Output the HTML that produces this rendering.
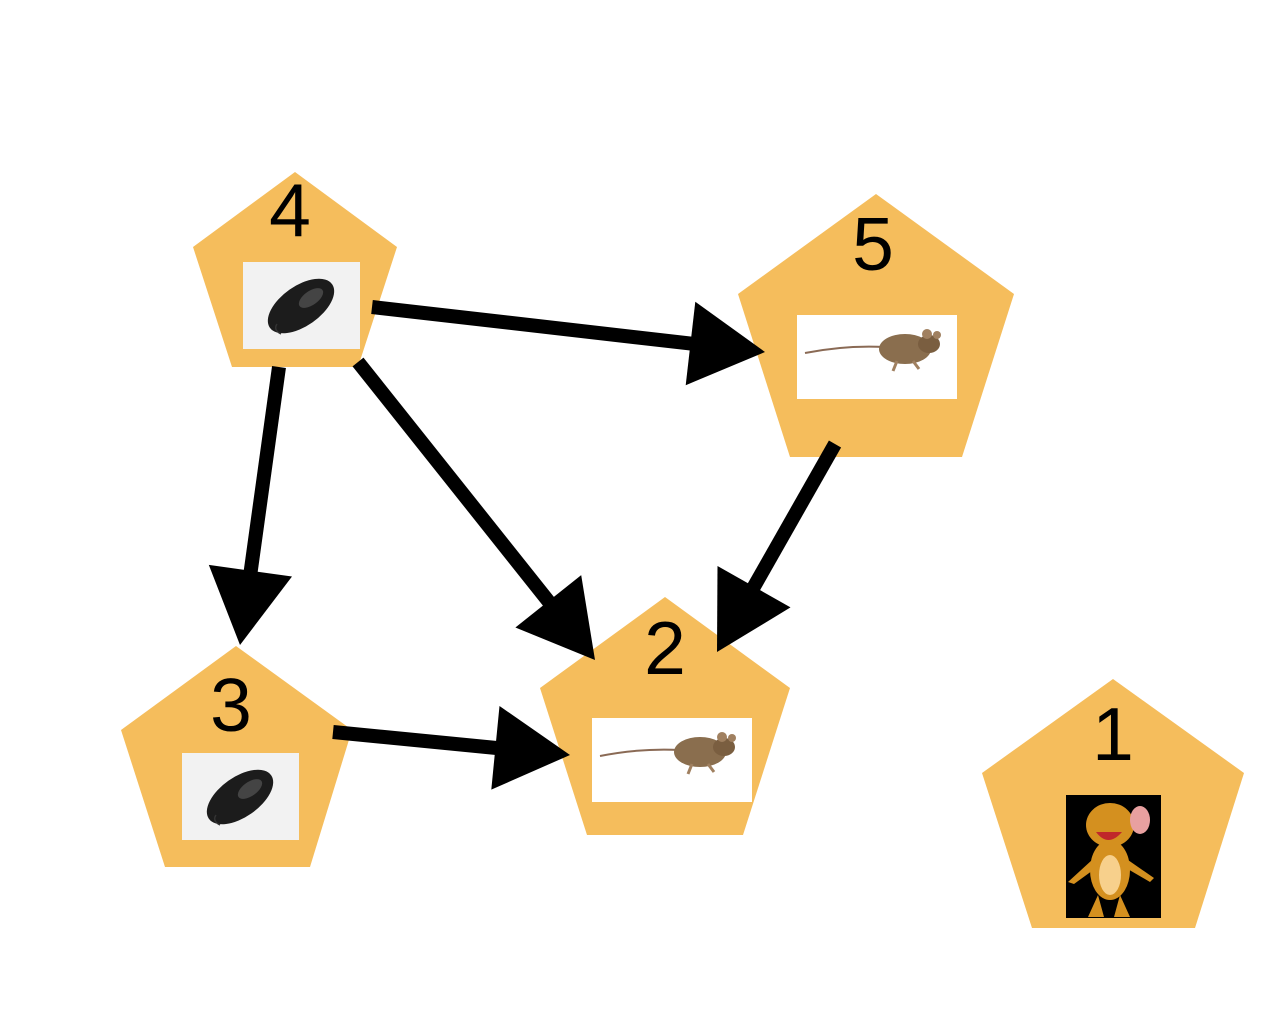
<!DOCTYPE html>
<html><head><meta charset="utf-8"><style>html,body{margin:0;padding:0;background:#fff;}svg{display:block}</style></head>
<body>
<svg width="1280" height="1024" viewBox="0 0 1280 1024" xmlns="http://www.w3.org/2000/svg">
<defs>
<g id="mouse">
<rect width="117" height="87" fill="#f2f2f2"/>
<ellipse cx="58" cy="44" rx="38" ry="20" transform="rotate(-35 58 44)" fill="#1c1c1c"/>
<ellipse cx="68" cy="36" rx="14" ry="7" transform="rotate(-35 68 36)" fill="#444"/>
<path d="M34 62 q-4 6 4 10" stroke="#333" fill="none" stroke-width="1.5"/>
</g>
<g id="rat">
<rect width="160" height="84" fill="#fff"/>
<path d="M8 38 q40 -8 80 -6" stroke="#8a6a55" stroke-width="2" fill="none"/>
<ellipse cx="108" cy="34" rx="26" ry="15" fill="#8a6e4e"/>
<ellipse cx="132" cy="29" rx="11" ry="9" fill="#7a5e40"/>
<circle cx="130" cy="19" r="5" fill="#a08060"/>
<circle cx="140" cy="20" r="4" fill="#a08060"/>
<path d="M100 46 l-4 10 M116 46 l6 8" stroke="#a08060" stroke-width="3"/>
</g>
</defs>
<g fill="#F5BD5C">
<polygon points="295,172 397,247 358,367 232,367 193,247"/>
<polygon points="876,194 1014,294 962,457 790,457 738,294"/>
<polygon points="665,597 790,688 743,835 587,835 540,688"/>
<polygon points="236,646 352,730 310,867 165,867 121,730"/>
<polygon points="1113,679 1244,773 1195,928 1032,928 982,773"/>
</g>
<use href="#mouse" x="243" y="262"/>
<use href="#mouse" x="182" y="753"/>
<use href="#rat" x="797" y="315"/>
<use href="#rat" x="592" y="718"/>
<rect x="1066" y="795" width="95" height="123" fill="#000"/>
<g fill="#d4901f">
<ellipse cx="1110" cy="825" rx="24" ry="22"/>
<ellipse cx="1110" cy="870" rx="20" ry="30"/>
<path d="M1092 860 l-24 22 l6 2 l22 -16z M1128 860 l26 18 l-4 4 l-24 -14z"/>
<path d="M1098 895 l-10 22 h16z M1120 895 l10 22 h-16z"/>
</g>
<ellipse cx="1140" cy="820" rx="10" ry="14" fill="#e8a0a0"/>
<ellipse cx="1110" cy="875" rx="11" ry="20" fill="#f7d08c"/>
<path d="M1096 832 q12 16 26 0z" fill="#c0282a"/>
<g font-family="Liberation Sans, sans-serif" font-size="75" text-anchor="middle" fill="#000">
<text x="290" y="236">4</text>
<text x="873" y="270">5</text>
<text x="665" y="674">2</text>
<text x="231" y="731">3</text>
<text x="1113" y="760">1</text>
</g>
<g stroke="#000" stroke-width="14">
<line x1="372" y1="307" x2="692" y2="343.7"/>
<line x1="279" y1="367" x2="250.6" y2="572"/>
<line x1="358" y1="362" x2="549" y2="602"/>
<line x1="835" y1="444" x2="753.5" y2="587.5"/>
<line x1="333" y1="732" x2="496.5" y2="748"/>
</g>
<g fill="#000">
<polygon points="765,352 695.3,301.8 685.7,385.2"/>
<polygon points="240,645 208.8,564.9 292,576.5"/>
<polygon points="595,660 515.4,627.5 581.2,575.1"/>
<polygon points="717,652 717.5,566 790.5,607.4"/>
<polygon points="570,755 491.3,789.6 499.5,706"/>
</g>
</svg>
</body></html>
